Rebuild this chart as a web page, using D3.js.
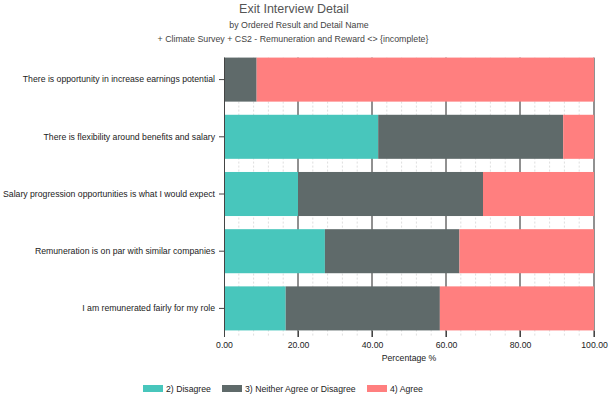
<!DOCTYPE html>
<html>
<head>
<meta charset="utf-8">
<script src="https://cdn.jsdelivr.net/npm/d3@7"></script>
<style>
  html, body { margin: 0; padding: 0; background: #fff; }
  svg { display: block; font-family: "Liberation Sans", Arial, sans-serif; }
</style>
</head>
<body>
<div id="chart"></div>
<script>
// statements, top to bottom
const questions = [
  'There is opportunity in increase earnings potential',
  'There is flexibility around benefits and salary',
  'Salary progression opportunities is what I would expect',
  'Remuneration is on par with similar companies',
  'I am remunerated fairly for my role'
];
const seriesNames = ['2) Disagree', '3) Neither Agree or Disagree', '4) Agree'];
const disagree = [0, 41.67, 20, 27.27, 16.67];
const neither = [8.82, 50, 50, 36.36, 41.67];
const agree = [91.18, 8.33, 30, 36.37, 41.66];
const xTicks = [0, 20, 40, 60, 80, 100];

const colors = ['#48c6bc', '#5f6a6a', '#ff7f7f'];
const width = 612, height = 397;
const margin = { top: 51, right: 18, bottom: 60, left: 224 };
const innerW = width - margin.left - margin.right;
const innerH = height - margin.top - margin.bottom;
const labelFont = 8.7;

const svg = d3.select('#chart').append('svg')
  .attr('width', width).attr('height', height);

// titles
const titles = svg.append('g').attr('text-anchor', 'middle').attr('fill', '#555');
titles.append('text').attr('x', 294).attr('y', 13).attr('font-size', 12.5).text('Exit Interview Detail');
titles.append('text').attr('x', 299).attr('y', 28).attr('font-size', 8.8).attr('fill', '#444').text('by Ordered Result and Detail Name');
titles.append('text').attr('x', 293).attr('y', 42).attr('font-size', 8.8).attr('fill', '#444')
  .text('+ Climate Survey + CS2 - Remuneration and Reward <> {incomplete}');

const plot = svg.append('g').attr('transform', `translate(${margin.left},${margin.top})`);

const x = d3.scaleLinear().domain([0, 100]).range([0, innerW]);
const y = d3.scaleBand().domain(questions).range([0, innerH]).paddingInner(0.23).paddingOuter(0.115);
const gridTop = y(questions[0]);

// minor dashed grid
const minor = d3.range(0, 101, 4).filter((v) => v % 20 !== 0);
plot.append('g').selectAll('line').data(minor).join('line')
  .attr('x1', (d) => x(d)).attr('x2', (d) => x(d))
  .attr('y1', gridTop).attr('y2', innerH)
  .attr('stroke', '#c8c8c8').attr('stroke-width', 0.6).attr('stroke-dasharray', '2,2');

// major grid
plot.append('g').selectAll('line').data(xTicks.slice(1)).join('line')
  .attr('x1', (d) => x(d)).attr('x2', (d) => x(d))
  .attr('y1', gridTop).attr('y2', innerH)
  .attr('stroke', '#222').attr('stroke-width', 1);

// stacked bars
const stackData = questions.map((q, i) => ({ q, s0: disagree[i], s1: neither[i], s2: agree[i] }));
const stack = d3.stack().keys(['s0', 's1', 's2'])(stackData);

plot.append('g').selectAll('g').data(stack).join('g')
  .attr('fill', (d, i) => colors[i])
  .selectAll('rect').data((d) => d).join('rect')
  .attr('x', (d) => x(d[0]))
  .attr('width', (d) => x(d[1]) - x(d[0]))
  .attr('y', (d) => y(d.data.q))
  .attr('height', y.bandwidth());

// y axis
const yAxis = plot.append('g').call(d3.axisLeft(y).tickSize(5).tickSizeOuter(0));
yAxis.select('.domain').attr('stroke', '#444').attr('d', `M0.5,${gridTop}V${innerH}`);
yAxis.selectAll('.tick line').attr('stroke', '#444');
yAxis.selectAll('text').attr('font-size', labelFont).attr('fill', '#222')
  .attr('font-family', '"Liberation Sans", Arial, sans-serif').attr('dx', -1);

// x axis
const xAxis = plot.append('g').attr('transform', `translate(0,${innerH - 6})`)
  .call(d3.axisBottom(x).tickValues(xTicks).tickFormat(d3.format('.2f')).tickSize(6).tickSizeOuter(0));
xAxis.select('.domain').remove();
xAxis.selectAll('.tick line').attr('stroke', '#444');
xAxis.selectAll('text').attr('font-size', labelFont).attr('fill', '#222')
  .attr('font-family', '"Liberation Sans", Arial, sans-serif').attr('dy', '0.9em');

plot.append('text').attr('x', innerW / 2).attr('y', innerH + 24)
  .attr('text-anchor', 'middle').attr('font-size', labelFont).attr('fill', '#222').text('Percentage  %');

// legend
const legendX = [143, 222, 367];
const legend = svg.append('g').selectAll('g').data(seriesNames).join('g')
  .attr('transform', (d, i) => `translate(${legendX[i]},385)`);
legend.append('rect').attr('width', 20).attr('height', 7).attr('fill', (d, i) => colors[i]);
legend.append('text').attr('x', 23).attr('y', 7).attr('font-size', labelFont).attr('fill', '#222').text((d) => d);
</script>
</body>
</html>
